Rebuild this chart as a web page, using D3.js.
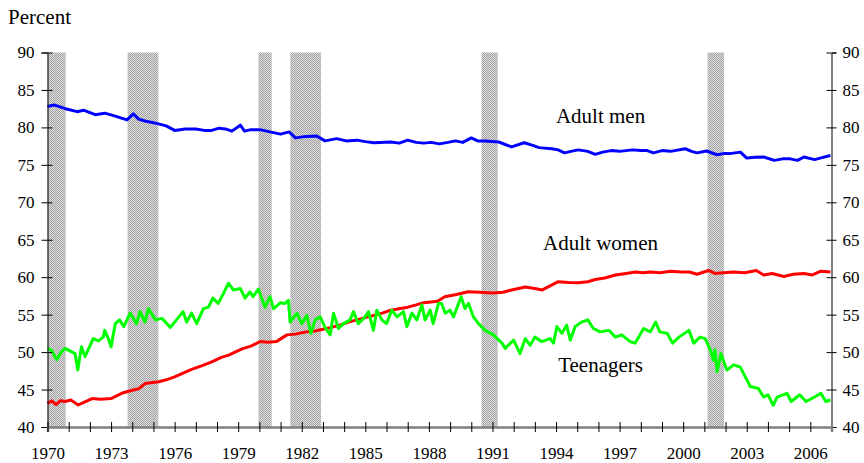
<!DOCTYPE html>
<meta charset="utf-8">
<style>
	body { margin: 0; background: #fff; }
	svg text { font-family: "Liberation Serif", "Times New Roman", serif; fill: #000; }
</style>
<body>
<script src="https://cdn.jsdelivr.net/npm/d3@7/dist/d3.min.js"></script>
<script>

	// Recessions, [start, end] in decimal years
	var recessions = [
		[1970.0, 1970.86], [1973.78, 1975.23], [1979.96, 1980.58],
		[1981.46, 1982.91], [1990.48, 1991.25], [2001.15, 2001.93]
	];

	// Participation rates, [decimal year, percent]
	var adultMen = [
		[1970.0, 82.8], [1970.3, 83.0], [1970.85, 82.5], [1971.4, 82.1], [1971.7, 82.3],
		[1972.25, 81.7], [1972.7, 81.9], [1973.2, 81.5], [1973.75, 81.0], [1974.05, 81.8],
		[1974.3, 81.1], [1974.6, 80.85], [1975.2, 80.5], [1975.6, 80.2], [1976.0, 79.6],
		[1976.5, 79.8], [1977.0, 79.8], [1977.4, 79.6], [1977.75, 79.6], [1978.1, 79.9],
		[1978.4, 79.8], [1978.7, 79.5], [1979.1, 80.3], [1979.3, 79.5], [1979.6, 79.7],
		[1980.03, 79.7], [1980.5, 79.4], [1981.0, 79.1], [1981.4, 79.4], [1981.7, 78.6],
		[1982.2, 78.8], [1982.7, 78.85], [1983.1, 78.2], [1983.65, 78.5], [1984.1, 78.2],
		[1984.6, 78.3], [1985.0, 78.1], [1985.4, 77.95], [1986.2, 78.05], [1986.6, 77.9],
		[1987.0, 78.3], [1987.4, 78.0], [1987.75, 77.9], [1988.1, 78.0], [1988.5, 77.8],
		[1988.9, 78.0], [1989.25, 78.2], [1989.6, 78.0], [1990.0, 78.6], [1990.3, 78.2],
		[1990.65, 78.2], [1991.3, 78.05], [1991.9, 77.4], [1992.5, 77.95], [1992.9, 77.6],
		[1993.2, 77.3], [1993.8, 77.15], [1994.1, 77.0], [1994.4, 76.6], [1994.7, 76.8],
		[1995.05, 77.0], [1995.5, 76.8], [1995.85, 76.4], [1996.2, 76.7], [1996.6, 76.9],
		[1997.0, 76.8], [1997.6, 77.0], [1998.0, 76.9], [1998.3, 76.9], [1998.6, 76.6],
		[1999.0, 76.9], [1999.4, 76.8], [2000.1, 77.15], [2000.4, 76.8], [2000.65, 76.6],
		[2001.1, 76.85], [2001.6, 76.35], [2001.9, 76.5], [2002.2, 76.5], [2002.7, 76.7],
		[2003.0, 75.9], [2003.4, 76.0], [2003.8, 76.05], [2004.3, 75.6], [2004.7, 75.8],
		[2005.05, 75.8], [2005.4, 75.6], [2005.7, 76.05], [2006.2, 75.7], [2006.6, 76.0],
		[2006.95, 76.25]
	];

	var adultWomen = [
		[1970.0, 43.15], [1970.2, 43.5], [1970.4, 43.0], [1970.6, 43.5], [1970.83, 43.4],
		[1971.1, 43.6], [1971.45, 42.95], [1971.8, 43.4], [1972.1, 43.8], [1972.5, 43.7],
		[1973.0, 43.8], [1973.5, 44.5], [1974.0, 44.9], [1974.3, 45.1], [1974.6, 45.8],
		[1975.25, 46.05], [1975.6, 46.3], [1976.0, 46.7], [1976.4, 47.2], [1976.8, 47.7],
		[1977.3, 48.2], [1977.75, 48.7], [1978.2, 49.3], [1978.55, 49.6], [1979.0, 50.2],
		[1979.25, 50.5], [1979.6, 50.8], [1980.03, 51.4], [1980.4, 51.3], [1980.8, 51.4],
		[1981.3, 52.3], [1981.7, 52.4], [1982.2, 52.7], [1982.6, 52.8], [1983.0, 53.05],
		[1983.4, 53.3], [1983.8, 53.6], [1984.2, 54.0], [1984.6, 54.3], [1985.0, 54.6],
		[1985.4, 54.9], [1985.8, 55.2], [1986.2, 55.6], [1986.6, 55.8], [1987.0, 56.0],
		[1987.4, 56.3], [1987.75, 56.6], [1988.1, 56.7], [1988.4, 56.8], [1988.75, 57.4],
		[1989.3, 57.7], [1989.85, 58.05], [1990.4, 58.0], [1991.0, 57.9], [1991.5, 58.0],
		[1991.9, 58.3], [1992.55, 58.7], [1993.0, 58.5], [1993.35, 58.3], [1993.7, 58.8],
		[1994.1, 59.4], [1994.6, 59.3], [1995.05, 59.25], [1995.5, 59.4], [1995.85, 59.7],
		[1996.3, 59.9], [1996.8, 60.3], [1997.3, 60.5], [1997.75, 60.7], [1998.1, 60.6],
		[1998.45, 60.7], [1998.9, 60.6], [1999.4, 60.8], [1999.9, 60.7], [2000.3, 60.7],
		[2000.65, 60.4], [2001.2, 60.9], [2001.5, 60.5], [2001.9, 60.6], [2002.4, 60.7],
		[2002.9, 60.6], [2003.45, 60.9], [2003.8, 60.3], [2004.2, 60.5], [2004.75, 60.1],
		[2005.2, 60.4], [2005.7, 60.5], [2006.1, 60.3], [2006.5, 60.8], [2006.95, 60.7]
	];

	var teenagers = [
		[1970.0, 50.5], [1970.2, 50.2], [1970.43, 49.0], [1970.65, 50.0], [1970.83, 50.5],
		[1971.1, 50.1], [1971.3, 49.8], [1971.43, 47.6], [1971.6, 50.7], [1971.77, 49.4],
		[1972.16, 51.8], [1972.4, 51.5], [1972.63, 52.0], [1972.7, 52.9], [1972.87, 51.8],
		[1973.0, 50.7], [1973.2, 53.8], [1973.4, 54.3], [1973.6, 53.4], [1973.9, 55.2],
		[1974.2, 53.8], [1974.37, 55.4], [1974.6, 54.0], [1974.76, 55.8], [1975.1, 54.3],
		[1975.4, 54.5], [1975.8, 53.3], [1976.2, 54.7], [1976.4, 55.4], [1976.57, 54.0],
		[1976.8, 55.2], [1977.04, 53.8], [1977.36, 55.8], [1977.6, 56.0], [1977.8, 57.2],
		[1978.06, 56.5], [1978.3, 57.8], [1978.54, 59.2], [1978.77, 58.3], [1979.1, 58.5],
		[1979.32, 57.2], [1979.56, 58.05], [1979.7, 57.4], [1979.95, 58.4], [1980.27, 56.0],
		[1980.5, 57.4], [1980.67, 55.8], [1981.0, 56.6], [1981.2, 56.5], [1981.37, 56.9],
		[1981.45, 54.0], [1981.77, 55.2], [1982.0, 53.8], [1982.24, 54.9], [1982.43, 52.5],
		[1982.63, 54.3], [1982.87, 54.7], [1983.1, 53.3], [1983.34, 52.3], [1983.5, 55.2],
		[1983.73, 53.15], [1983.97, 53.8], [1984.28, 54.3], [1984.44, 55.4], [1984.67, 53.8],
		[1984.99, 54.7], [1985.15, 55.4], [1985.38, 52.9], [1985.54, 55.6], [1985.78, 54.3],
		[1986.0, 53.8], [1986.25, 55.6], [1986.5, 54.7], [1986.8, 55.4], [1986.96, 53.4],
		[1987.2, 55.2], [1987.43, 54.3], [1987.67, 56.3], [1987.82, 54.3], [1988.06, 55.6],
		[1988.2, 53.8], [1988.45, 56.5], [1988.6, 56.5], [1988.77, 55.2], [1989.0, 55.6],
		[1989.16, 54.7], [1989.4, 56.5], [1989.52, 57.4], [1989.7, 55.8], [1989.87, 56.5],
		[1990.1, 54.7], [1990.34, 53.8], [1990.65, 52.9], [1991.05, 52.3], [1991.45, 51.2],
		[1991.6, 50.5], [1992.0, 51.6], [1992.3, 49.8], [1992.55, 51.8], [1992.78, 50.9],
		[1993.0, 52.0], [1993.33, 51.4], [1993.72, 51.8], [1993.88, 51.2], [1994.04, 53.4],
		[1994.28, 52.5], [1994.5, 53.6], [1994.67, 51.6], [1994.9, 53.4], [1995.2, 54.0],
		[1995.5, 54.3], [1995.76, 53.15], [1996.08, 52.7], [1996.5, 52.9], [1996.8, 52.0],
		[1997.1, 52.3], [1997.5, 51.4], [1997.73, 51.2], [1997.9, 52.0], [1998.13, 53.15],
		[1998.45, 52.7], [1998.7, 54.0], [1998.9, 52.7], [1999.25, 52.5], [1999.5, 51.2],
		[1999.8, 52.0], [2000.27, 52.9], [2000.5, 51.2], [2000.8, 52.0], [2001.04, 51.8],
		[2001.28, 50.3], [2001.43, 48.9], [2001.5, 50.3], [2001.6, 47.4], [2001.78, 49.8],
		[2002.06, 47.6], [2002.38, 48.3], [2002.7, 48.0], [2002.93, 46.7], [2003.17, 45.4],
		[2003.55, 45.15], [2003.8, 44.0], [2004.0, 44.3], [2004.25, 42.9], [2004.43, 44.0],
		[2004.9, 44.5], [2005.1, 43.4], [2005.5, 44.3], [2005.8, 43.4], [2006.2, 44.0],
		[2006.5, 44.5], [2006.73, 43.4], [2006.95, 43.6]
	];

	var yearTicks = d3.range(1970, 2007);
	var yearLabels = [1970, 1973, 1976, 1979, 1982, 1985, 1988, 1991, 1994, 1997, 2000, 2003, 2006];
	var percentTicks = [40, 45, 50, 55, 60, 65, 70, 75, 80, 85, 90];

	var width = 864, height = 463;
	var plotLeft = 47.5, plotRight = 831.5, plotTop = 52.5, plotBottom = 427;
	var serif = "Liberation Serif, Times New Roman, serif";

	var svg = d3.select("body").append("svg")
		.attr("width", width)
		.attr("height", height)
		.attr("font-family", serif);

	var x = d3.scaleLinear().domain([1970, 2007]).range([plotLeft, plotRight]);
	var y = d3.scaleLinear().domain([40, 90]).range([plotBottom, plotTop]);

	// checkered fill for recession bars
	var pat = svg.append("defs").append("pattern")
		.attr("id", "checks")
		.attr("width", 2).attr("height", 2)
		.attr("patternUnits", "userSpaceOnUse");
	pat.append("rect").attr("width", 2).attr("height", 2).attr("fill", "#dcdcdc");
	pat.append("rect").attr("width", 1).attr("height", 1).attr("fill", "#a4a4a4");
	pat.append("rect").attr("x", 1).attr("y", 1).attr("width", 1).attr("height", 1).attr("fill", "#a4a4a4");

	svg.selectAll("rect.rec")
		.data(recessions)
		.enter()
		.append("rect")
		.attr("class", "rec")
		.attr("x", function(d) { return x(d[0]); })
		.attr("y", y(90))
		.attr("width", function(d) { return x(d[1]) - x(d[0]); })
		.attr("height", y(40) - y(90))
		.attr("fill", "url(#checks)");

	// lines
	var line = d3.line()
		.x(function(d) { return x(d[0]); })
		.y(function(d) { return y(d[1]); });

	var series = [
		{ data: adultMen, color: "#0000ff" },
		{ data: adultWomen, color: "#ff0000" },
		{ data: teenagers, color: "#00ff00" }
	];

	svg.selectAll("path.series")
		.data(series)
		.enter()
		.append("path")
		.attr("class", "series")
		.attr("d", function(d) { return line(d.data); })
		.attr("fill", "none")
		.attr("stroke", function(d) { return d.color; })
		.attr("stroke-width", 3)
		.attr("stroke-linejoin", "round");

	// left axis
	var yLeft = svg.append("g")
		.attr("transform", "translate(" + plotLeft + ",0)")
		.call(d3.axisLeft(y).tickValues(percentTicks).tickSize(6).tickPadding(7));
	yLeft.selectAll(".tick").append("line").attr("x2", 5);

	// right axis
	var yRight = svg.append("g")
		.attr("transform", "translate(" + plotRight + ",0)")
		.call(d3.axisRight(y).tickValues(percentTicks).tickSize(5).tickPadding(6));
	yRight.selectAll(".tick").append("line").attr("x2", -5);

	// bottom axis
	var xAxis = svg.append("g")
		.attr("transform", "translate(0," + plotBottom + ")")
		.call(d3.axisBottom(x).tickValues(yearTicks).tickSize(5)
			.tickFormat(function(d) { return yearLabels.indexOf(d) >= 0 ? d : ""; }));
	xAxis.select(".domain").attr("stroke", "#808080").attr("stroke-width", 2.5);
	xAxis.selectAll(".tick").append("line").attr("y2", -5);
	xAxis.selectAll(".tick text").attr("y", 32).attr("dy", 0);

	svg.selectAll("g").attr("font-family", serif);
	svg.selectAll(".tick line").attr("stroke", "#000");
	svg.selectAll(".tick text")
		.attr("font-family", serif)
		.attr("font-size", "17px")
		.attr("fill", "#000");
	yLeft.select(".domain").attr("stroke", "#000");
	yRight.select(".domain").attr("stroke", "#000");

	// titles
	svg.append("text")
		.attr("x", 8).attr("y", 24)
		.attr("font-family", serif)
		.attr("font-size", "21px")
		.text("Percent");

	var labels = [
		{ text: "Adult men", at: 1996.1, v: 80.65 },
		{ text: "Adult women", at: 1996.1, v: 63.6 },
		{ text: "Teenagers", at: 1996.1, v: 47.35 }
	];
	svg.selectAll("text.lab")
		.data(labels)
		.enter()
		.append("text")
		.attr("class", "lab")
		.attr("x", function(d) { return x(d.at); })
		.attr("y", function(d) { return y(d.v); })
		.attr("text-anchor", "middle")
		.attr("font-family", serif)
		.attr("font-size", "21px")
		.text(function(d) { return d.text; });

</script>
</body>
